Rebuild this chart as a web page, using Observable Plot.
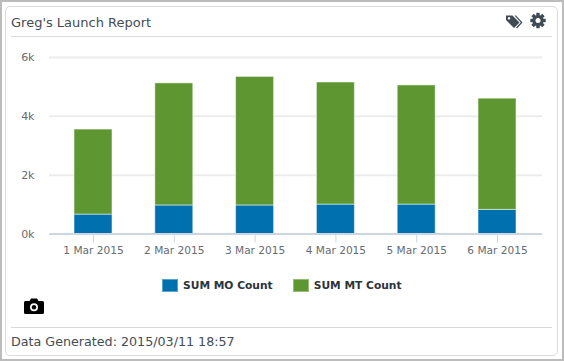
<!DOCTYPE html>
<html>
<head>
<meta charset="utf-8">
<script src="https://cdn.jsdelivr.net/npm/d3@7"></script>
<script src="https://cdn.jsdelivr.net/npm/@observablehq/plot@0.6"></script>
<style>
  html, body { margin: 0; padding: 0; background: #fff; }
  #page { position: relative; width: 564px; height: 361px; box-sizing: border-box; overflow: hidden; font-family: "DejaVu Sans", sans-serif; }
  #outer { position: absolute; inset: 0; border: 2px solid #bcbcbc; border-bottom-width: 2px; box-sizing: border-box; }
  #card { position: absolute; left: 5px; top: 6px; width: 553px; height: 350px; box-sizing: border-box; border: 1px solid #dcdcdc; border-radius: 5px; }
  .rule { position: absolute; left: 11px; width: 541px; height: 1px; background: #d9d9d9; }
  #title { position: absolute; left: 11px; top: 14px; font-size: 13px; color: #444c55; line-height: 17px; white-space: nowrap; }
  #foot { position: absolute; left: 11px; top: 333px; font-size: 12.7px; color: #444c55; line-height: 17px; white-space: nowrap; }
  #chart { position: absolute; left: 0; top: 0; }
  #legend { position: absolute; top: 277px; left: 162px; display: flex; font-size: 10.7px; font-weight: bold; color: #2d333a; line-height: 16px; white-space: nowrap; }
  .item { display: flex; align-items: center; margin-right: 20px; }
  .item span:last-child { position: relative; top: 1px; }
  .sw { width: 16px; height: 13px; margin-right: 5px; box-sizing: border-box; border: 1px solid rgba(255,255,255,.35); }
  .icon { position: absolute; }
</style>
</head>
<body>
<div id="page">
  <div id="outer"></div>
  <div id="card"></div>
  <div id="title"></div>
  <div class="rule" style="top:36px"></div>
  <svg class="icon" style="left:506px;top:14px" width="18" height="16" viewBox="0 0 18 16">
    <path d="M0 1.5H6.5L13.5 8.5L8 14L0 6Z M3 3a1.3 1.3 0 1 0 .01 0Z" fill="#3f4a54" fill-rule="evenodd"/>
    <path d="M8.5 1.5H10L16.5 8.5L11 14.5L10 13.5L14.8 8.5Z" fill="#3f4a54"/>
  </svg>
  <svg class="icon" style="left:530px;top:12px" width="16" height="17" viewBox="-8 -8 16 16">
    <g fill="#3f4a54">
      <circle r="5.6"/>
      <rect x="-1.7" y="-7.7" width="3.4" height="15.4"/>
      <rect x="-1.7" y="-7.7" width="3.4" height="15.4" transform="rotate(45)"/>
      <rect x="-1.7" y="-7.7" width="3.4" height="15.4" transform="rotate(90)"/>
      <rect x="-1.7" y="-7.7" width="3.4" height="15.4" transform="rotate(135)"/>
    </g>
    <circle r="2.5" fill="#fff"/>
  </svg>
  <div id="chart"></div>
  <div id="legend"></div>
  <svg class="icon" style="left:24px;top:298px" width="20" height="16" viewBox="0 0 20 16">
    <path d="M1.5 3H5.5L7 .5H13L14.5 3H18.5Q20 3 20 4.5V14.5Q20 16 18.5 16H1.5Q0 16 0 14.5V4.5Q0 3 1.5 3Z" fill="#000"/>
    <circle cx="10" cy="9.3" r="4" fill="#fff"/>
    <circle cx="10" cy="9.3" r="2.2" fill="#000"/>
  </svg>
  <div class="rule" style="top:327px"></div>
  <div id="foot"></div>
</div>
<script>
const titleText = "Greg's Launch Report";
const footerText = "Data Generated: 2015/03/11 18:57";
const days = ["1 Mar 2015", "2 Mar 2015", "3 Mar 2015", "4 Mar 2015", "5 Mar 2015", "6 Mar 2015"];
const seriesNames = ["SUM MO Count", "SUM MT Count"];
const seriesColors = ["#0070ae", "#5e9732"];
const moCounts = [660, 970, 970, 1000, 1000, 820];
const mtCounts = [2890, 4150, 4370, 4150, 4050, 3780];
const yTicks = [0, 2000, 4000, 6000];

const rows = [
  ...days.map((day, i) => ({day, series: seriesNames[0], count: moCounts[i]})),
  ...days.map((day, i) => ({day, series: seriesNames[1], count: mtCounts[i]}))
];

const chart = Plot.plot({
  width: 564,
  height: 361,
  marginLeft: 49,
  marginRight: 22,
  marginTop: 57,
  marginBottom: 127.5,
  style: {background: "transparent", fontFamily: "'DejaVu Sans', sans-serif", fontSize: "11px", overflow: "visible"},
  x: {domain: days, range: [52.6, 537.4], paddingInner: 0.53, paddingOuter: 0.265, round: false, label: null},
  y: {domain: [0, 6000], label: null},
  color: {domain: seriesNames, range: seriesColors},
  marks: [
    Plot.ruleY(yTicks.slice(1), {stroke: "#ececec", strokeWidth: 2}),
    Plot.barY(rows, {x: "day", y: "count", fill: "series", stroke: "#fff", strokeOpacity: 0.5, strokeWidth: 1}),
    Plot.ruleY([0], {stroke: "#ccd6e1", strokeWidth: 2}),
    Plot.axisY({ticks: yTicks, tickSize: 0, tickPadding: 15, tickFormat: d => `${d / 1000}k`, color: "#666c73", fontSize: 11, label: null}),
    Plot.axisX({tickSize: 9, tickPadding: 3, stroke: "#ccd6e1", color: "#666c73", fontSize: 10.6, label: null})
  ]
});
document.getElementById("chart").append(chart);
document.getElementById("title").textContent = titleText;
document.getElementById("foot").textContent = footerText;
const legend = document.getElementById("legend");
seriesNames.forEach((name, i) => {
  const item = document.createElement("div");
  item.className = "item";
  const sw = document.createElement("span");
  sw.className = "sw";
  sw.style.background = seriesColors[i];
  const label = document.createElement("span");
  label.textContent = name;
  item.append(sw, label);
  legend.append(item);
});
</script>
</body>
</html>
